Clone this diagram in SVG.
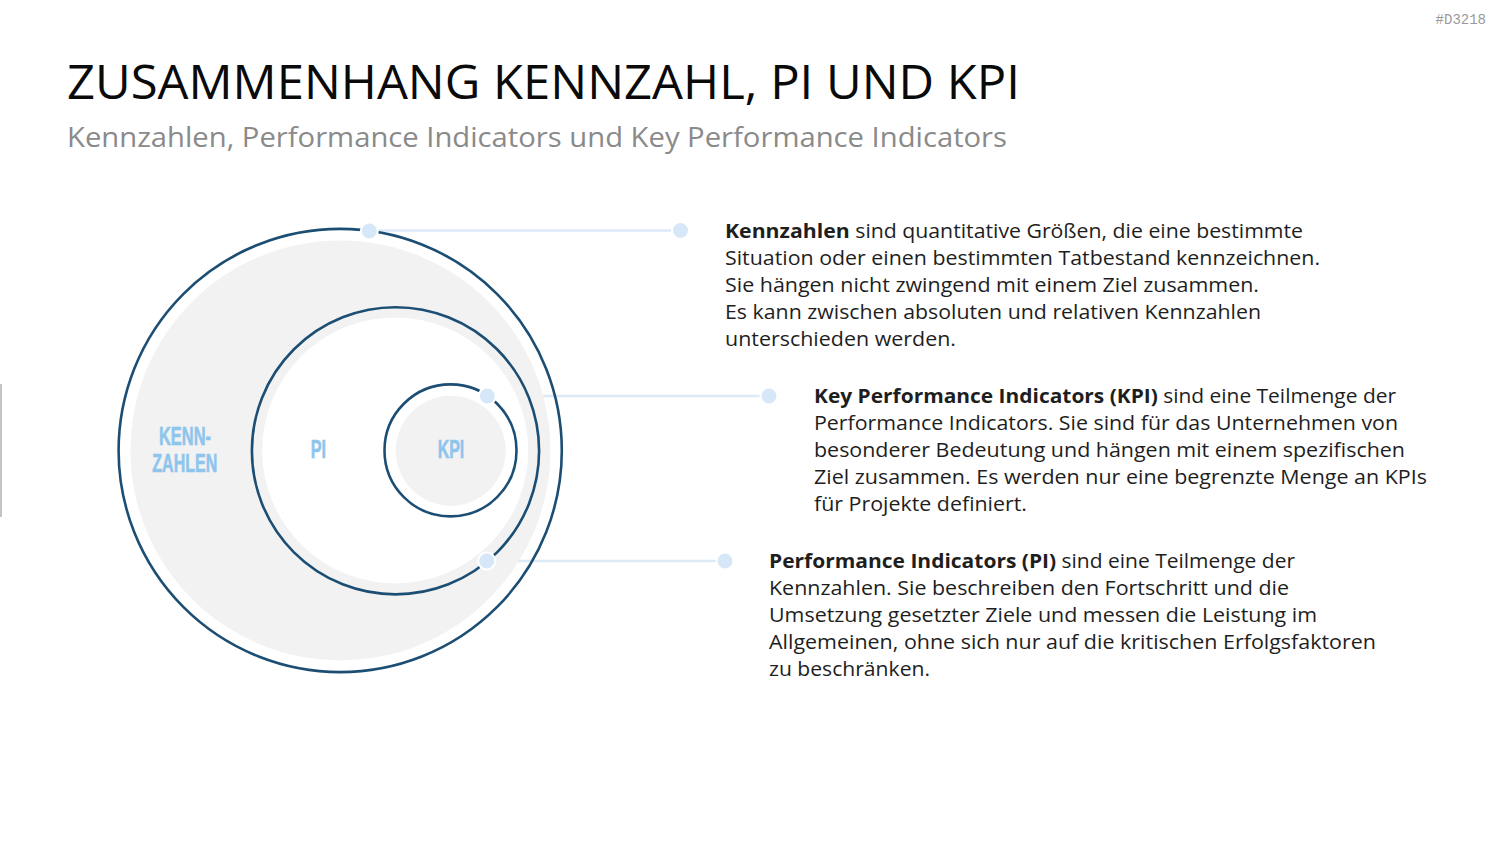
<svg xmlns="http://www.w3.org/2000/svg" width="1500" height="844" viewBox="0 0 1500 844">
<style>
.ring{fill:none;stroke:#1c4e74;stroke-width:2.6}
.gray{fill:#f2f2f2}
.lbl{font-family:"Liberation Sans",Arial,sans-serif;font-weight:bold;font-size:26.5px;fill:#8ec5ec;stroke:#8ec5ec;stroke-width:0.6;text-anchor:middle}
.con{stroke:#dceaf7;stroke-width:2.5;fill:none}
.dot{fill:#d6e8f7;stroke:#ffffff;stroke-width:2}
.body{font-family:"Open Sans","Liberation Sans",sans-serif;font-size:20px;fill:#1e1e1e}
.b{font-weight:bold}
</style>
<rect width="1500" height="844" fill="#ffffff"/>
<rect x="0" y="384" width="2" height="133" fill="#c4c4c4"/>
<text x="1486" y="24" font-family="Liberation Mono,monospace" font-size="14" fill="#9a9a9a" text-anchor="end">#D3218</text>
<text x="67" y="99" font-family="Open Sans,Liberation Sans,sans-serif" font-size="46.7" fill="#0a0a0a" textLength="953" lengthAdjust="spacingAndGlyphs">ZUSAMMENHANG KENNZAHL, PI UND KPI</text>
<text x="67" y="147" font-family="Open Sans,Liberation Sans,sans-serif" font-size="26.6" fill="#8a8a8a" textLength="940" lengthAdjust="spacingAndGlyphs">Kennzahlen, Performance Indicators und Key Performance Indicators</text>

<g id="connectors">
<line class="con" x1="369" y1="230.5" x2="680" y2="230.5"/>
<line class="con" x1="487" y1="396" x2="769" y2="396"/>
<line class="con" x1="487" y1="561" x2="725" y2="561"/>
</g>

<g id="kennzahlen">
<circle class="gray" cx="340.4" cy="450.4" r="210"/>
<circle class="ring" cx="340.2" cy="450.5" r="221.6"/>
<text class="lbl" x="185" y="445" textLength="52" lengthAdjust="spacingAndGlyphs">KENN-</text>
<text class="lbl" x="184.8" y="472.3" textLength="65" lengthAdjust="spacingAndGlyphs">ZAHLEN</text>
</g>
<g id="pi">
<circle cx="395.2" cy="450.4" r="133" fill="#ffffff"/>
<circle class="ring" cx="395.5" cy="450.8" r="143.6"/>
<text class="lbl" x="318.3" y="458.3" textLength="15.3" lengthAdjust="spacingAndGlyphs">PI</text>
</g>
<g id="kpi">
<circle class="gray" cx="450.7" cy="450.7" r="55"/>
<circle class="ring" cx="450.5" cy="450.4" r="66"/>
<text class="lbl" x="451" y="458.3" textLength="26.6" lengthAdjust="spacingAndGlyphs">KPI</text>
</g>

<g id="dots">
<circle class="dot" cx="369.3" cy="231" r="8.5"/>
<circle class="dot" cx="680.5" cy="230.5" r="8.5"/>
<circle class="dot" cx="487.3" cy="396" r="8.5"/>
<circle class="dot" cx="769" cy="396" r="8.5"/>
<circle class="dot" cx="486.7" cy="561" r="8.5"/>
<circle class="dot" cx="725" cy="561" r="8.5"/>
</g>

<g id="text-kennzahlen" class="body">
<text x="725" y="238" textLength="578" lengthAdjust="spacingAndGlyphs"><tspan class="b">Kennzahlen</tspan> sind quantitative Größen, die eine bestimmte</text>
<text x="725" y="265" textLength="595" lengthAdjust="spacingAndGlyphs">Situation oder einen bestimmten Tatbestand kennzeichnen.</text>
<text x="725" y="292" textLength="534" lengthAdjust="spacingAndGlyphs">Sie hängen nicht zwingend mit einem Ziel zusammen.</text>
<text x="725" y="319" textLength="536" lengthAdjust="spacingAndGlyphs">Es kann zwischen absoluten und relativen Kennzahlen</text>
<text x="725" y="346" textLength="231" lengthAdjust="spacingAndGlyphs">unterschieden werden.</text>
</g>
<g id="text-kpi" class="body">
<text x="814" y="403" textLength="582" lengthAdjust="spacingAndGlyphs"><tspan class="b">Key Performance Indicators (KPI)</tspan> sind eine Teilmenge der</text>
<text x="814" y="430" textLength="584" lengthAdjust="spacingAndGlyphs">Performance Indicators. Sie sind für das Unternehmen von</text>
<text x="814" y="457" textLength="591" lengthAdjust="spacingAndGlyphs">besonderer Bedeutung und hängen mit einem spezifischen</text>
<text x="814" y="484" textLength="613" lengthAdjust="spacingAndGlyphs">Ziel zusammen. Es werden nur eine begrenzte Menge an KPIs</text>
<text x="814" y="511" textLength="213" lengthAdjust="spacingAndGlyphs">für Projekte definiert.</text>
</g>
<g id="text-pi" class="body">
<text x="769" y="568" textLength="526" lengthAdjust="spacingAndGlyphs"><tspan class="b">Performance Indicators (PI)</tspan> sind eine Teilmenge der</text>
<text x="769" y="595" textLength="520" lengthAdjust="spacingAndGlyphs">Kennzahlen. Sie beschreiben den Fortschritt und die</text>
<text x="769" y="622" textLength="548" lengthAdjust="spacingAndGlyphs">Umsetzung gesetzter Ziele und messen die Leistung im</text>
<text x="769" y="649" textLength="607" lengthAdjust="spacingAndGlyphs">Allgemeinen, ohne sich nur auf die kritischen Erfolgsfaktoren</text>
<text x="769" y="676" textLength="161" lengthAdjust="spacingAndGlyphs">zu beschränken.</text>
</g>
</svg>
